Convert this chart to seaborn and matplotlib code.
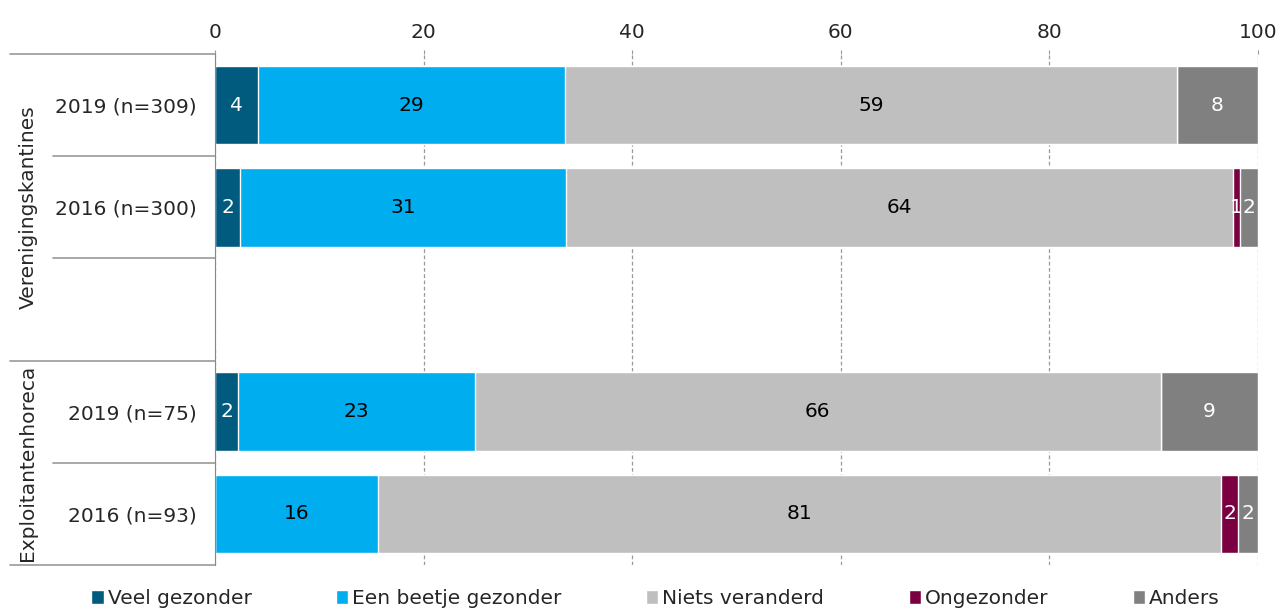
import pandas as pd
import matplotlib
matplotlib.use("Agg")
import matplotlib.pyplot as plt
import seaborn as sns
from matplotlib.patches import Patch

# rows (empty slot between the two groups)
rows = ["2019 (n=309)", "2016 (n=300)", " ", "2019 (n=75)", "2016 (n=93)"]
groups = ["Verenigingskantines", "Exploitantenhoreca"]

series = ["Veel gezonder", "Een beetje gezonder", "Niets veranderd", "Ongezonder", "Anders"]
veel = [4.1, 2.4, 0, 2.2, 0]
beetje = [29.5, 31.3, 0, 22.7, 15.6]
niets = [58.6, 63.9, 0, 65.8, 80.9]
ongezonder = [0, 0.7, 0, 0, 1.6]
anders = [7.8, 1.7, 0, 9.3, 1.9]
labels = [
    ["4", "29", "59", "", "8"],
    ["2", "31", "64", "1", "2"],
    ["", "", "", "", ""],
    ["2", "23", "66", "", "9"],
    ["", "16", "81", "2", "2"],
]

colors = ["#005B7F", "#00AEEF", "#BFBFBF", "#7B0041", "#808080"]
text_colors = ["white", "black", "black", "white", "white"]

df = pd.DataFrame({"row": rows, "Veel gezonder": veel, "Een beetje gezonder": beetje,
                   "Niets veranderd": niets, "Ongezonder": ongezonder, "Anders": anders})
cum = df[series].cumsum(axis=1)
cum["row"] = df["row"]

sns.set_style("white")
plt.rcParams["font.family"] = ["DejaVu Sans"]
FS = 14.5

fig = plt.figure(figsize=(12.88, 6.08), dpi=100)
ax = fig.add_axes([215 / 1288, 1 - 565 / 608, 1043 / 1288, (565 - 54) / 608])

# stacked bars: draw cumulative totals from the outside in
for s, c in reversed(list(zip(series, colors))):
    sns.barplot(data=cum, x=s, y="row", order=rows, color=c, width=0.77,
                saturation=1, ax=ax, orient="h")

# value labels
for i in range(len(rows)):
    left = 0
    for j, s in enumerate(series):
        w = df[s][i]
        if labels[i][j]:
            ax.text(left + w / 2, i, labels[i][j], ha="center", va="center",
                    color=text_colors[j], fontsize=FS)
        left += w

ax.set_xlim(0, 100)
ax.set_ylim(4.5, -0.5)
ax.set_xlabel("")
ax.set_ylabel("")
ax.xaxis.tick_top()
ax.set_xticks([0, 20, 40, 60, 80, 100])
ax.tick_params(axis="x", labelsize=FS, length=3, color="#999999", pad=6)
ax.tick_params(axis="y", labelsize=FS, length=0, pad=13)
ax.xaxis.grid(True, linestyle=(0, (3, 2)), color="#999999", linewidth=0.9)
ax.set_axisbelow(True)
for sp in ["top", "right", "bottom"]:
    ax.spines[sp].set_visible(False)
ax.spines["left"].set_color("#888888")

# separator lines in the left margin
tr = ax.get_yaxis_transform()
for y, full in [(-0.5, True), (0.5, False), (1.5, False), (2.5, True), (3.5, False), (4.5, True)]:
    x0 = (10 - 215) / 1043 if full else (53 - 215) / 1043
    ax.plot([x0, 0], [y, y], transform=tr, color="#999999", lw=1.2, clip_on=False)

ax.text((28 - 215) / 1043, 1.0, groups[0], transform=tr, rotation=90,
        ha="center", va="center", fontsize=FS)
ax.text((28 - 215) / 1043, 3.5, groups[1], transform=tr, rotation=90,
        ha="center", va="center", fontsize=FS)

handles = [Patch(facecolor=c, label=s) for s, c in zip(series, colors)]
fig.legend(handles=handles, loc="lower center", bbox_to_anchor=(0.509, -0.03), ncol=5,
           frameon=False, fontsize=FS, handlelength=0.6, handleheight=0.7,
           handletextpad=0.2, columnspacing=4.2)

fig.savefig("out.png", dpi=100)
